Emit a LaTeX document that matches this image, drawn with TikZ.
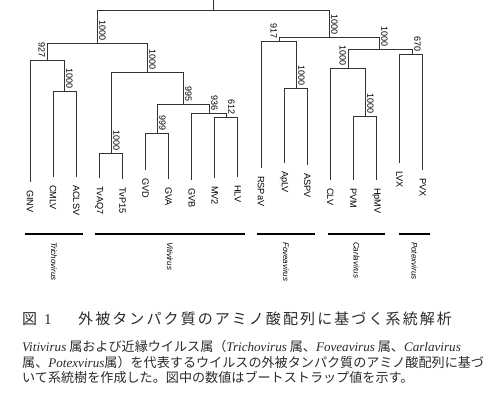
\documentclass[tikz,border=0pt]{standalone}
\usepackage{fontspec}
\setmainfont{Liberation Serif}
\setsansfont{Liberation Sans}
\newfontfamily\jp{Noto Sans CJK JP}
\newfontfamily\jpt[LetterSpace=14]{Noto Sans CJK JP}
\definecolor{treegray}{HTML}{333333}
\definecolor{captxt}{HTML}{2A2A2A}
\newcommand{\gen}[1]{{\rmfamily\itshape #1}}
\tikzset{
  br/.style={draw=treegray, line width=0.9pt},
  leaf/.style={rotate=-90, anchor=west, inner sep=0pt,
    font=\sffamily\fontsize{9.2}{10}\selectfont},
  bs/.style={rotate=-90, inner sep=0pt,
    font=\sffamily\fontsize{9}{10}\selectfont},
  bsr/.style={bs, anchor=south east},
  bsl/.style={bs, anchor=north east},
  grp/.style={line width=2.2pt},
  grplab/.style={rotate=-90, anchor=west, inner sep=0pt,
    font=\sffamily\itshape\fontsize{8}{9}\selectfont},
  capline/.style={anchor=base west, inner sep=0pt, text=captxt,
    font=\jp\fontsize{13.1}{15}\selectfont},
}

\begin{document}
\begin{tikzpicture}[x=1pt,y=-1pt]
  \useasboundingbox (0,0) rectangle (504,395);

  \coordinate (top) at (213,0);
  \coordinate (root) at (213,10);
  \coordinate (tv) at (97,43);
  \coordinate (tri) at (47,60);
  \coordinate (tri2) at (64,91);
  \coordinate (vit) at (147,72);
  \coordinate (vtv) at (111,153);
  \coordinate (vg) at (183,104);
  \coordinate (vgv) at (157,133);
  \coordinate (vgb) at (209,113);
  \coordinate (vmh) at (226,117);
  \coordinate (rt) at (329,37);
  \coordinate (fov) at (279,41);
  \coordinate (fov2) at (296,88);
  \coordinate (cp) at (379,49);
  \coordinate (car) at (348,68);
  \coordinate (car2) at (365,116);
  \coordinate (pot) at (412,54);

  \foreach \nm/\ey [count=\i from 0] in {GINV/182, CMLV/177, ACLSV/177,
      TvAQ7/178, TvP15/179, GVD/170, GVA/179, GVB/180, MV2/178, HLV/177,
      RSPaV/168, ApLV/163, ASPV/165, CLV/180, PVM/180, HpMV/180,
      LVX/163, PVX/170}{
    \coordinate (\nm) at ({30+23.1*\i},\ey);
    \node[leaf] (l\nm) at ([yshift=-8pt]\nm) {\nm};
  }

  \draw[br] (top) -- (root);
  \foreach \p/\c in {root/tv, root/rt, tv/tri, tv/vit, tri/tri2,
      vit/vtv, vit/vg, vg/vgv, vg/vgb, vgb/vmh, rt/fov, rt/cp,
      fov/fov2, cp/car, cp/pot, car/car2,
      tri/GINV, tri2/CMLV, tri2/ACLSV, vtv/TvAQ7, vtv/TvP15, vgv/GVD,
      vgv/GVA, vgb/GVB, vmh/MV2, vmh/HLV, fov/RSPaV, fov2/ApLV,
      fov2/ASPV, car/CLV, car2/PVM, car2/HpMV, pot/LVX, pot/PVX}
    \draw[br] (\p) -| (\c);

  \foreach \n/\v in {tv/1000, tri2/1000, vit/1000, vtv/1000, vg/995,
      vgv/999, vgb/936, vmh/612, rt/1000, fov2/1000, cp/1000,
      car2/1000, pot/670}
    \node[bsr] (b\n) at ([xshift=2pt,yshift=2pt]\n) {\v};
  \foreach \n/\v in {tri/927, fov/917, car/1000}
    \node[bsl] (b\n) at ([xshift=-2pt,yshift=2pt]\n) {\v};

  \foreach \a/\b/\g in {25/83/Trichovirus, 95/245/Vitivirus,
      257/315/Foveavirus, 328/385/Carlavirus, 399/430/Potexvirus}{
    \coordinate (\g-l) at (\a,234);
    \coordinate (\g-r) at (\b,234);
    \draw[grp] (\g-l) -- (\g-r);
    \node[grplab] (\g) at ({(\a+\b)/2},242) {\g};
  }

  \node[anchor=base west, inner sep=0pt, text=captxt,
    font=\jp\fontsize{15}{15}\selectfont] (fig) at (22,325)
    {図\hspace{7pt}{\rmfamily 1}};
  \node[anchor=base west, inner sep=0pt, text=captxt,
    font=\jpt\fontsize{15}{15}\selectfont] (ttl) at (78,325)
    {外被タンパク質のアミノ酸配列に基づく系統解析};

  \node[capline] (c1) at (22,352) {\gen{Vitivirus} 属および近縁ウイルス属（\gen{Trichovirus} 属、\gen{Foveavirus} 属、\gen{Carlavirus}};
  \node[capline] (c2) at (22,368) {属、\gen{Potexvirus}属）を代表するウイルスの外被タンパク質のアミノ酸配列に基づ};
  \node[capline] (c3) at (22,383) {いて系統樹を作成した。図中の数値はブートストラップ値を示す。};
\end{tikzpicture}
\end{document}
